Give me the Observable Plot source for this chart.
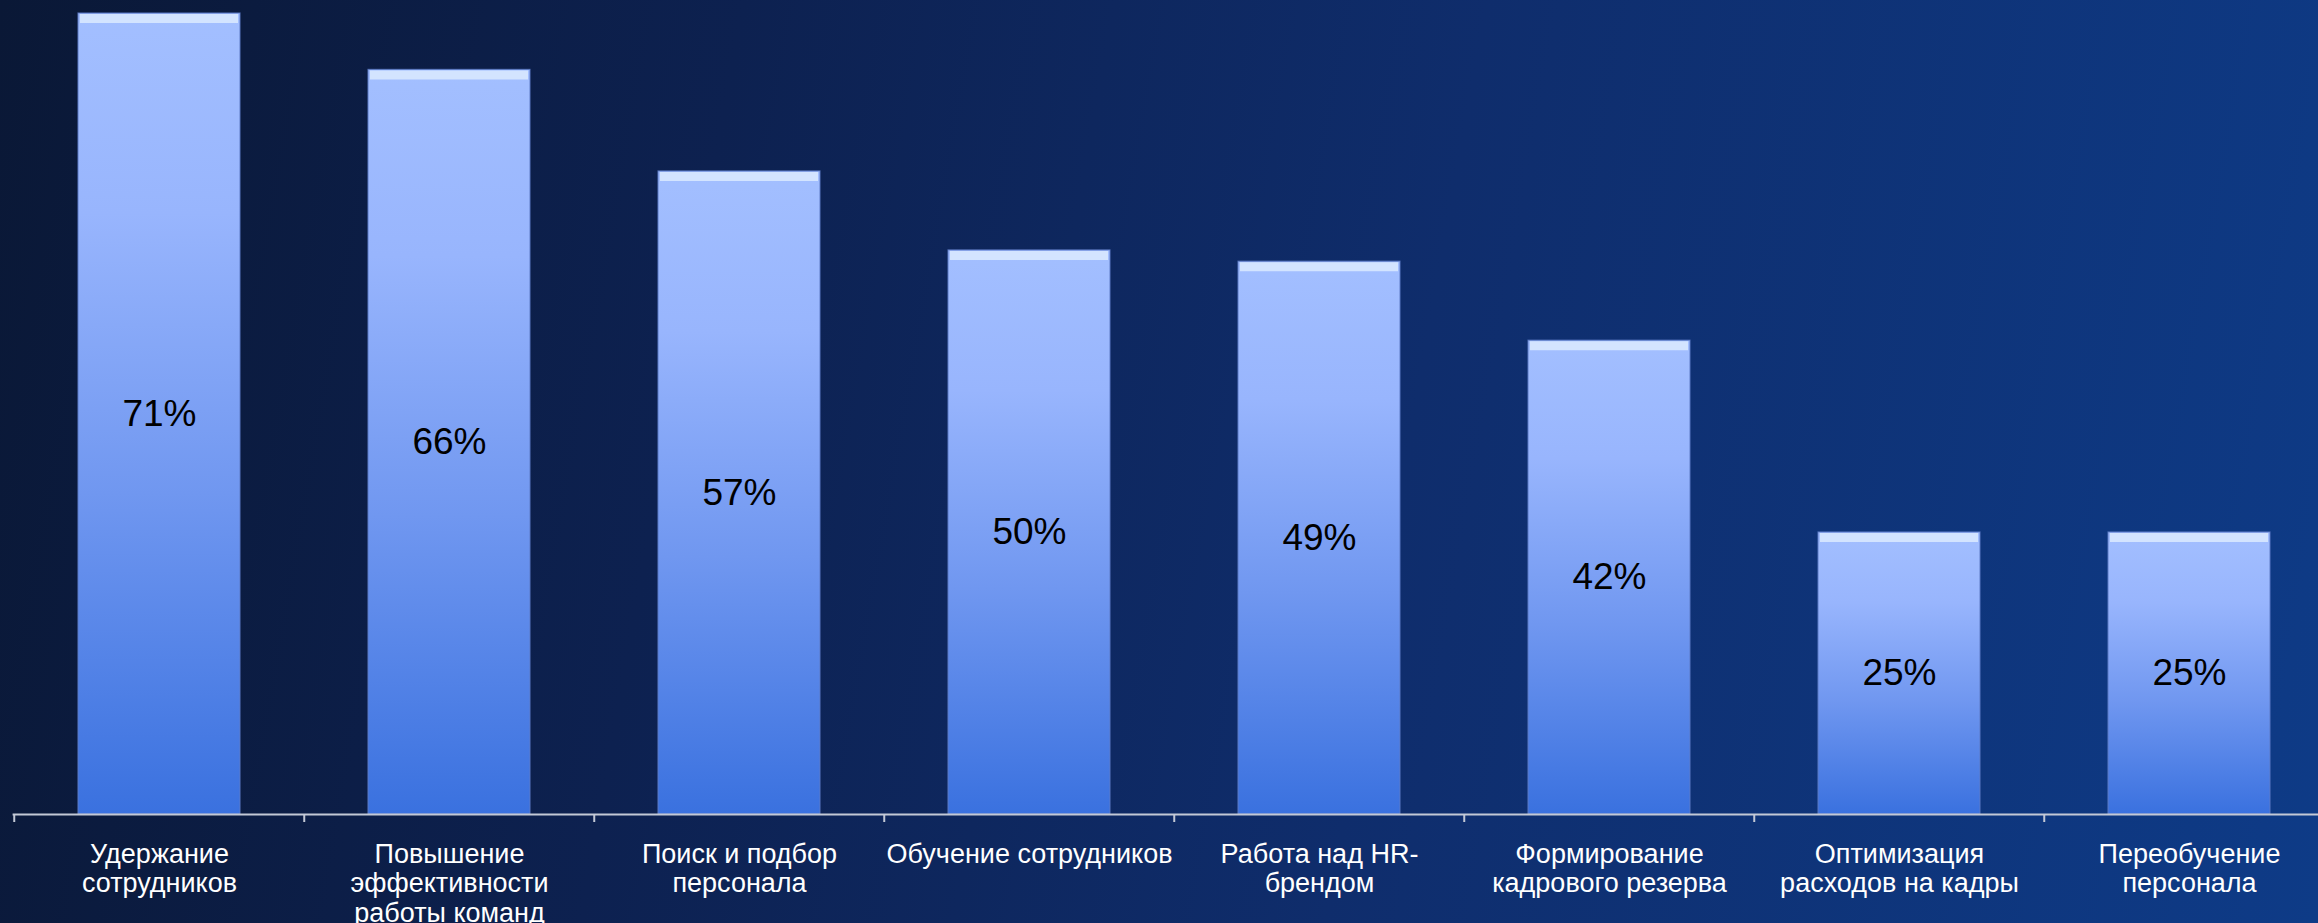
<!DOCTYPE html>
<html>
<head>
<meta charset="utf-8">
<script src="https://cdn.jsdelivr.net/npm/d3@7"></script>
<script src="https://cdn.jsdelivr.net/npm/@observablehq/plot@0.6"></script>
<style>
  html, body { margin: 0; padding: 0; }
  body {
    width: 2318px; height: 923px; overflow: hidden;
    background: linear-gradient(100deg, #0a1836 0%, #0d2150 30%, #0f2d6c 60%, #0e3b87 100%);
    font-family: "Liberation Sans", Arial, sans-serif;
  }
</style>
</head>
<body>
<div id="chart"></div>
<script>
const categories = [
  "Удержание сотрудников",
  "Повышение эффективности работы команд",
  "Поиск и подбор персонала",
  "Обучение сотрудников",
  "Работа над HR-брендом",
  "Формирование кадрового резерва",
  "Оптимизация расходов на кадры",
  "Переобучение персонала"
];
const tickLabels = [
  "Удержание\nсотрудников",
  "Повышение\nэффективности\nработы команд",
  "Поиск и подбор\nперсонала",
  "Обучение сотрудников",
  "Работа над HR-\nбрендом",
  "Формирование\nкадрового резерва",
  "Оптимизация\nрасходов на кадры",
  "Переобучение\nперсонала"
];
const values = [71, 66, 57, 50, 49, 42, 25, 25];

const data = categories.map((c, i) => ({category: c, value: values[i]}));
const labelOf = new Map(categories.map((c, i) => [c, tickLabels[i]]));

const W = 2318, H = 923;
const xStart = 12.6, xEnd = 2336.6;
const step = (xEnd - xStart) / categories.length;

const plot = Plot.plot({
  width: W,
  height: H,
  marginTop: 13,
  marginBottom: 109,
  marginLeft: xStart,
  marginRight: 0,
  style: {background: "transparent", fontFamily: "'Liberation Sans', Arial, sans-serif", overflow: "visible"},
  x: {domain: categories, range: [xStart, xEnd], paddingInner: 0.44, paddingOuter: 0.22, axis: null, label: null},
  y: {domain: [0, 71], axis: null},
  marks: [
    Plot.barY(data, {x: "category", y: "value", fill: "url(#barGrad)", stroke: "#5c7bc4", strokeWidth: 1.2, strokeOpacity: 0.8}),
    Plot.tickY(data, {x: "category", y: "value", stroke: "#d3e4ff", strokeWidth: 9, dy: 5, inset: 2}),
    Plot.text(data, {x: "category", y: d => d.value / 2, text: d => `${d.value}%`, fontSize: 37, fill: "black"}),
    Plot.ruleY([0], {stroke: "#c3c9d6", strokeWidth: 2}),
    Plot.axisX({tickSize: 8, dx: -step / 2, tickFormat: () => "", label: null, stroke: "#c3c9d6", strokeWidth: 2}),
    Plot.axisX({tickSize: 0, tickPadding: 27, label: null, tickFormat: d => labelOf.get(d), fontSize: 27, lineHeight: 1.1, color: "white", lineAnchor: "top"})
  ]
});

d3.select(plot).insert("defs", ":first-child").html(`
  <linearGradient id="barGrad" x1="0" y1="0" x2="0" y2="1">
    <stop offset="0%" stop-color="#a3bfff"/>
    <stop offset="25%" stop-color="#98b5fd"/>
    <stop offset="60%" stop-color="#7097f0"/>
    <stop offset="100%" stop-color="#3a71df"/>
  </linearGradient>
`);

document.getElementById("chart").appendChild(plot);
</script>
</body>
</html>
